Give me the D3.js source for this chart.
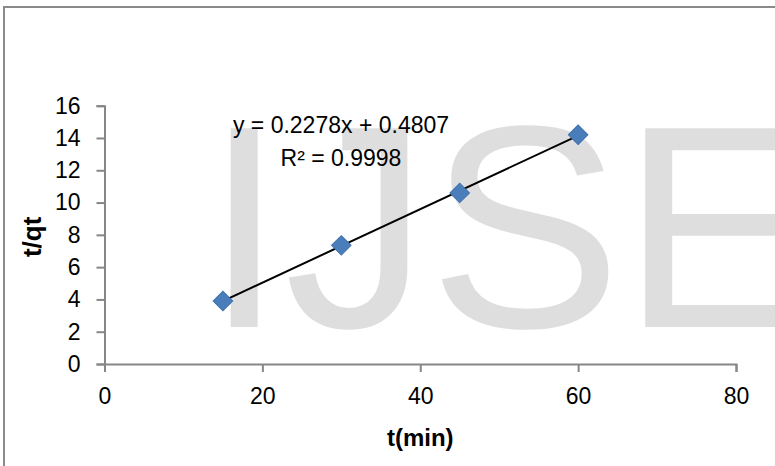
<!DOCTYPE html>
<html>
<head>
<meta charset="utf-8">
<script src="https://cdn.jsdelivr.net/npm/d3@7"></script>
<style>
  body { margin: 0; background: #fff; }
  svg { display: block; font-family: "Liberation Sans", Arial, sans-serif; }
</style>
</head>
<body>
<div id="chart"></div>
<script>
// Data
const times = [15, 30, 45, 60];
const ratios = [3.9, 7.35, 10.6, 14.2];
const xTicks = [0, 20, 40, 60, 80];
const yTicks = [0, 2, 4, 6, 8, 10, 12, 14, 16];
const slope = 0.2278;      // from the printed trendline equation
const intercept = 0.4807;
const eqLabel = "y = 0.2278x + 0.4807";
const r2Label = "R² = 0.9998";

// Size and plot area
const width = 775;
const height = 466;
const margin = { top: 105.7, right: 39, bottom: 102, left: 104.5 };
const axisColor = "#868686";

let xScale = d3.scaleLinear()
  .domain([0, 80])
  .range([margin.left, width - margin.right]);
let yScale = d3.scaleLinear()
  .domain([0, 16])
  .range([height - margin.bottom, margin.top]);

let svg = d3.select("#chart")
  .append("svg")
  .attr("width", width)
  .attr("height", height);

// Watermark behind everything
svg.append("text")
  .attr("x", 204)
  .attr("y", 327)
  .style("font-size", "289px")
  .attr("fill", "#dedede")
  .text("IJSE");

// Chart border (runs off the right and bottom edges)
svg.append("rect")
  .attr("x", 4)
  .attr("y", 7)
  .attr("width", 800)
  .attr("height", 500)
  .attr("fill", "none")
  .attr("stroke", "#8a8a8a")
  .attr("stroke-width", 2);

// Axes
let xAxis = svg.append("g")
  .attr("transform", `translate(0,${yScale(0)})`)
  .call(d3.axisBottom(xScale).tickValues(xTicks).tickSize(8).tickPadding(16));
let yAxis = svg.append("g")
  .attr("transform", `translate(${xScale(0)},0)`)
  .call(d3.axisLeft(yScale).tickValues(yTicks).tickSize(8).tickPadding(16));

[xAxis, yAxis].forEach(a => {
  a.select(".domain").attr("stroke", axisColor).attr("stroke-width", 2);
  a.selectAll(".tick line").attr("stroke", axisColor).attr("stroke-width", 2);
  a.selectAll(".tick text")
    .attr("fill", "#000")
    .style("font-size", "23px")
    .style("font-family", "Liberation Sans, Arial, sans-serif");
});

// Axis titles
svg.append("text")
  .attr("x", (xScale(0) + xScale(80)) / 2)
  .attr("y", 446)
  .attr("text-anchor", "middle")
  .style("font-size", "24px")
  .style("font-weight", "bold")
  .text("t(min)");

svg.append("text")
  .attr("transform", `translate(41,${(yScale(0) + yScale(16)) / 2 + 2}) rotate(-90)`)
  .attr("text-anchor", "middle")
  .style("font-size", "26px")
  .style("font-weight", "bold")
  .text("t/qt");

// Trendline over the data range
let x0 = d3.min(times), x1 = d3.max(times);
svg.append("line")
  .attr("x1", xScale(x0))
  .attr("y1", yScale(slope * x0 + intercept))
  .attr("x2", xScale(x1))
  .attr("y2", yScale(slope * x1 + intercept))
  .attr("stroke", "#000")
  .attr("stroke-width", 2);

// Diamond markers
svg.selectAll("path.point")
  .data(times.map((t, i) => ({ t: t, v: ratios[i] })))
  .enter()
  .append("path")
  .attr("class", "point")
  .attr("d", d3.symbol(d3.symbolSquare, 190))
  .attr("transform", d => `translate(${xScale(d.t)},${yScale(d.v)}) rotate(45)`)
  .attr("fill", "#4a7ebb")
  .attr("stroke", "#3f71ad")
  .attr("stroke-width", 1);

// Trendline label
svg.append("text")
  .attr("x", 341)
  .attr("y", 133)
  .attr("text-anchor", "middle")
  .style("font-size", "23px")
  .text(eqLabel);
svg.append("text")
  .attr("x", 341)
  .attr("y", 166)
  .attr("text-anchor", "middle")
  .style("font-size", "23px")
  .text(r2Label);
</script>
</body>
</html>
